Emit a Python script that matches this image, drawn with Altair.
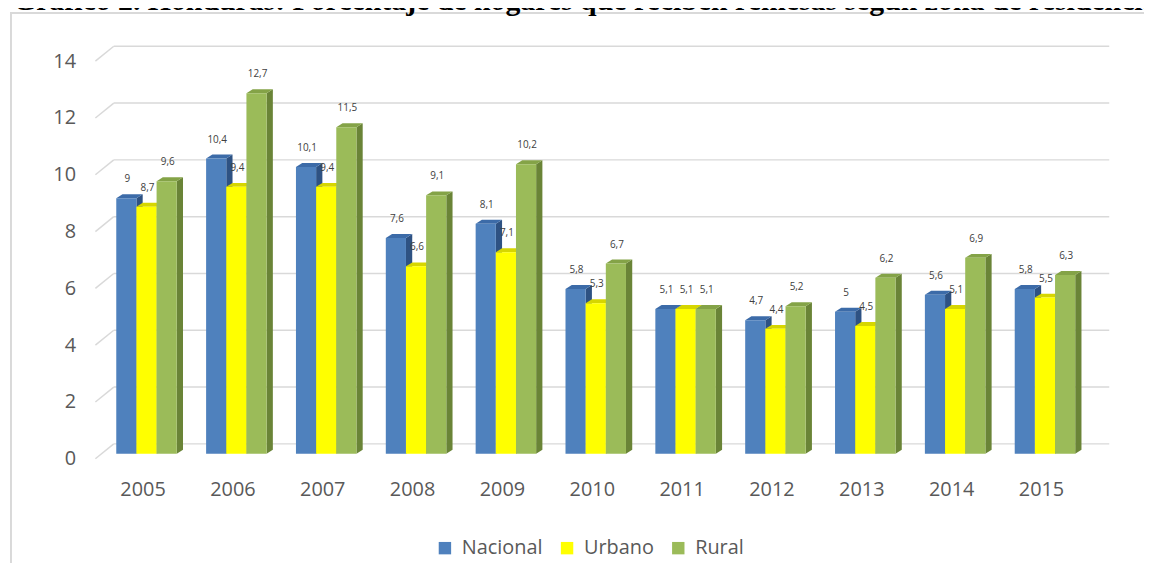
import altair as alt
import pandas as pd

# ---------------- data ----------------
years = [2005, 2006, 2007, 2008, 2009, 2010, 2011, 2012, 2013, 2014, 2015]
nacional = [9.0, 10.4, 10.1, 7.6, 8.1, 5.8, 5.1, 4.7, 5.0, 5.6, 5.8]
urbano = [8.7, 9.4, 9.4, 6.6, 7.1, 5.3, 5.1, 4.4, 4.5, 5.1, 5.5]
rural = [9.6, 12.7, 11.5, 9.1, 10.2, 6.7, 5.1, 5.2, 6.2, 6.9, 6.3]
series = ["Nacional", "Urbano", "Rural"]
y_ticks = [0, 2, 4, 6, 8, 10, 12, 14]
title_text = "Gráfico 2. Honduras: Porcentaje de hogares que reciben remesas según zona de residencia"

# ---------------- styles ----------------
front_colors = ["#4F81BD", "#FFFF00", "#9BBB59"]
top_colors = ["#3C6BA8", "#D6D600", "#84A347"]
side_colors = ["#2E5283", "#B3B300", "#6A8437"]

W = 0.2244    # bar width (x units)
DX = 0.0696   # 3D depth, x units
DY = 0.14     # 3D depth, y units
GB = 0.35     # back-wall offset of gridlines (y units)
GF = 0.175    # front offset of gridline stubs (y units)

rows = []
for i, y in enumerate(years):
    for j, (s, vals) in enumerate(zip(series, [nacional, urbano, rural])):
        rows.append({"i": i, "year": str(y), "serie": s, "j": j, "value": vals[i]})
df = pd.DataFrame(rows)
gdf = pd.DataFrame({"t": y_ticks})
deco = pd.DataFrame({"title": [title_text]})

def js_list(lst):
    return "[" + ",".join(repr(v) if isinstance(v, str) else str(v) for v in lst) + "]"

xscale = alt.Scale(domain=[-0.569, 10.638], nice=False, zero=False)
yscale = alt.Scale(domain=[-0.5, 15], nice=False, zero=False)

label_expr = js_list([str(y) for y in years]) + "[datum.value]"
xaxis = alt.Axis(values=list(range(len(years))), labelExpr=label_expr, title=None,
                 grid=False, ticks=False, domain=False, labelFontSize=20,
                 labelFont="Open Sans", labelColor="#595959", labelPadding=22,
                 labelBaseline="middle", labelOffset=-4, labelFlush=False,
                 labelOverlap=False)
yaxis = alt.Axis(values=y_ticks, title=None, grid=False, ticks=False, domain=False,
                 labelFontSize=20, labelFont="Open Sans", labelColor="#595959",
                 labelPadding=20, labelOffset=5, labelFlush=False, labelOverlap=False,
                 labelBaseline="middle")

base = alt.Chart(df).transform_calculate(
    x0=f"datum.i + (datum.j - 1.5) * {W}",
    x1=f"datum.i + (datum.j - 0.5) * {W}",
    zero="0",
    key="datum.year + '-' + datum.serie",
)

frame = alt.Chart(deco).mark_rect(fillOpacity=0, stroke="#D9D9D9", strokeWidth=2).encode(
    x=alt.value(-85), x2=alt.value(1100), y=alt.value(-15), y2=alt.value(600)
)
title = alt.Chart(deco).mark_text(
    align="left", baseline="alphabetic", font="Liberation Serif", fontWeight="bold",
    fontSize=30, color="black"
).encode(x=alt.value(-83), y=alt.value(-18), text="title:N")

grid = alt.Chart(gdf).transform_calculate(yb=f"datum.t + {GB}").mark_rule(
    color="#D9D9D9", strokeWidth=1.5
).encode(y=alt.Y("yb:Q", scale=yscale, axis=yaxis), x=alt.value(18.5), x2=alt.value(1021))

stub = alt.Chart(gdf).transform_calculate(
    yb=f"datum.t + {GB}", yf=f"datum.t - {GF}"
).mark_rule(color="#D9D9D9", strokeWidth=1.5).encode(
    x=alt.value(0), x2=alt.value(18.5),
    y=alt.Y("yf:Q", scale=yscale, axis=yaxis), y2="yb:Q"
)

side = base.transform_calculate(k="[0, 1]").transform_flatten(["k"]).transform_calculate(
    xs=f"datum.x1 + datum.k * {DX}",
    ylo=f"datum.k * {DY}",
    yhi=f"datum.value + datum.k * {DY}",
    col=js_list(side_colors) + "[datum.j]",
).mark_area(orient="vertical").encode(
    x=alt.X("xs:Q", scale=xscale, axis=xaxis),
    y=alt.Y("yhi:Q", scale=yscale, axis=yaxis),
    y2="ylo:Q",
    detail="key:N",
    color=alt.Color("col:N", scale=None),
)

top = base.transform_calculate(k="[0, 1, 2, 3]").transform_flatten(["k"]).transform_calculate(
    xs=f"datum.x0 + [0, {DX}, {W}, {W + DX}][datum.k]",
    ylo=f"datum.value + [0, 0, 0, {DY}][datum.k]",
    yhi=f"datum.value + [0, {DY}, {DY}, {DY}][datum.k]",
    col=js_list(top_colors) + "[datum.j]",
).mark_area(orient="vertical").encode(
    x=alt.X("xs:Q", scale=xscale, axis=xaxis),
    y=alt.Y("yhi:Q", scale=yscale, axis=yaxis),
    y2="ylo:Q",
    detail="key:N",
    color=alt.Color("col:N", scale=None),
)

front = base.mark_rect().encode(
    x=alt.X("x0:Q", scale=xscale, axis=xaxis),
    x2="x1:Q",
    y=alt.Y("value:Q", scale=yscale, axis=yaxis),
    y2="zero:Q",
    color=alt.Color(
        "serie:N",
        scale=alt.Scale(domain=series, range=front_colors),
        legend=alt.Legend(
            orient="none", legendX=342, legendY=514, direction="horizontal",
            title=None, symbolType="square", symbolSize=156, symbolStrokeWidth=0,
            labelFontSize=20, labelFont="Open Sans", labelColor="#595959",
            labelOffset=7, columnPadding=14, padding=0,
        ),
    ),
)

labels = base.transform_calculate(
    lbl="replace(format(datum.value, '.1~f'), '.', ',')",
    xc="(datum.x0 + datum.x1) / 2",
).mark_text(dy=-19, dx=1, fontSize=10, font="Open Sans", color="#404040",
            baseline="middle").encode(
    x=alt.X("xc:Q", scale=xscale, axis=xaxis),
    y=alt.Y("value:Q", scale=yscale, axis=yaxis),
    text="lbl:N",
)

chart = alt.layer(frame, title, grid, stub, side, top, front, labels).properties(
    width=1014,
    height=443.3,
    autosize=alt.AutoSizeParams(type="none"),
    padding={"left": 88, "top": 18, "right": 42, "bottom": 93.7},
).configure(background="white").configure_view(stroke=None)

chart.save("out.html", embed_options={"renderer": "svg", "actions": False})
